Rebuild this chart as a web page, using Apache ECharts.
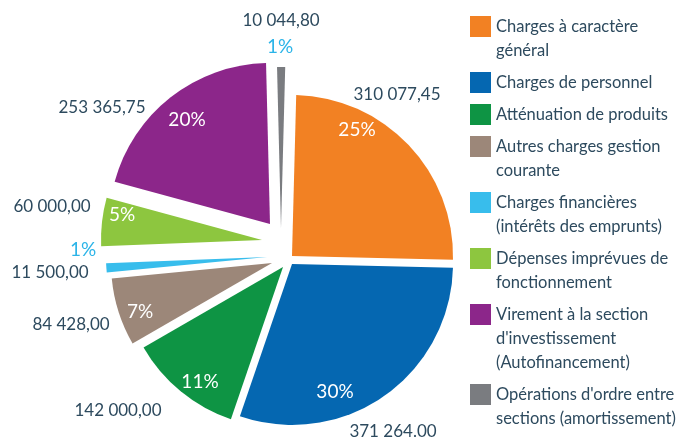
<!DOCTYPE html>
<html>
<head>
<meta charset="utf-8">
<script src="https://cdn.jsdelivr.net/npm/echarts@6/dist/echarts.min.js"></script>
<style>
  html, body { margin: 0; padding: 0; background: #fff; }
  #chart { width: 676px; height: 441px; }
</style>
</head>
<body>
<div id="chart"></div>
<script>
// data
var names = [
  "Charges à caractère\ngénéral",
  "Charges de personnel",
  "Atténuation de produits",
  "Autres charges gestion\ncourante",
  "Charges financières\n(intérêts des emprunts)",
  "Dépenses imprévues de\nfonctionnement",
  "Virement à la section\nd'investissement\n(Autofinancement)",
  "Opérations d'ordre entre\nsections (amortissement)"
];
var values = [310077.45, 371264.00, 142000.00, 84428.00, 11500.00, 60000.00, 253365.75, 10044.80];
var valueLabels = ["310 077,45", "371 264.00", "142 000,00", "84 428,00", "11 500,00", "60 000,00", "253 365,75", "10 044,80"];
var colors = ["#F28123", "#0567B1", "#0E9444", "#9C8779", "#38BDEC", "#8DC63F", "#8C268A", "#7A7C80"];

// layout
var textColor = "#2d4a5e";
var fontFamily = "Lato, 'Open Sans', sans-serif";
var R = 161;
// each slice is pulled out of the pie by its own amount
var sliceCenters = [[292, 256], [292, 264], [283, 267], [272, 263], [267, 257], [262, 240], [270, 224], [281, 228]];
var pctOffsets = [[65, -126], [43, 128], [-83, 115], [-132, 49], [-184, -7], [-140, -25], [-83, -104], [-1, -181]];
var valOffsets = [[105, -161], [101, 168], [-165, 144], [-201, 62], [-217, 16], [-210, -33], [-168, -116], [0, -207]];

var total = values.reduce(function (a, b) { return a + b; }, 0);

var chart = echarts.init(document.getElementById("chart"));

function labelAt(c, o) {
  return function () {
    return { x: c[0] + o[0], y: c[1] + o[1], align: "center", verticalAlign: "middle" };
  };
}

var series = [];
var cum = 0;
values.forEach(function (v, i) {
  var start = 88.5 - cum / total * 360;
  cum += v;
  var pct = Math.round(v / total * 100);
  var small = pct < 2;
  var base = {
    type: "pie",
    center: sliceCenters[i],
    radius: R,
    startAngle: start,
    clockwise: true,
    silent: true,
    animation: false,
    avoidLabelOverlap: false,
    labelLine: { show: false }
  };
  // slice + percent label
  series.push(Object.assign({}, base, {
    labelLayout: labelAt(sliceCenters[i], pctOffsets[i]),
    data: [
      {
        name: names[i], value: v,
        itemStyle: { color: colors[i] },
        label: {
          show: true, formatter: pct + "%",
          color: small ? "#2BB4E8" : "#fff",
          fontSize: 19, fontFamily: fontFamily
        }
      },
      { name: "", value: total - v, itemStyle: { color: "rgba(0,0,0,0)" }, label: { show: false } }
    ]
  }));
  // amount label
  series.push(Object.assign({}, base, {
    labelLayout: labelAt(sliceCenters[i], valOffsets[i]),
    data: [
      {
        name: "amount" + i, value: v,
        itemStyle: { color: "rgba(0,0,0,0)" },
        label: {
          show: true, formatter: valueLabels[i],
          color: textColor, fontSize: 17, fontFamily: fontFamily
        }
      },
      { name: "", value: total - v, itemStyle: { color: "rgba(0,0,0,0)" }, label: { show: false } }
    ]
  }));
});

// legend: one block per entry; blank lines on top keep the swatch on the first text line
var lh = 24, icon = 21, gap = 8;
var legends = [];
var iconTop = 15;
names.forEach(function (n, i) {
  var lines = n.split("\n").length;
  var box = (2 * lines - 1) * lh;
  var pad = new Array(lines).join("\n");
  legends.push({
    left: 470,
    top: iconTop - Math.max(0, (box - icon) / 2) + 1,
    orient: "vertical",
    padding: 0,
    itemWidth: icon,
    itemHeight: icon,
    selectedMode: false,
    icon: "rect",
    formatter: function (name) { return pad + name; },
    textStyle: { color: textColor, fontSize: 16.5, fontFamily: fontFamily, lineHeight: lh },
    data: [n]
  });
  iconTop += lines * lh + gap;
});

chart.setOption({
  backgroundColor: "#fff",
  legend: legends,
  series: series
});
</script>
</body>
</html>
